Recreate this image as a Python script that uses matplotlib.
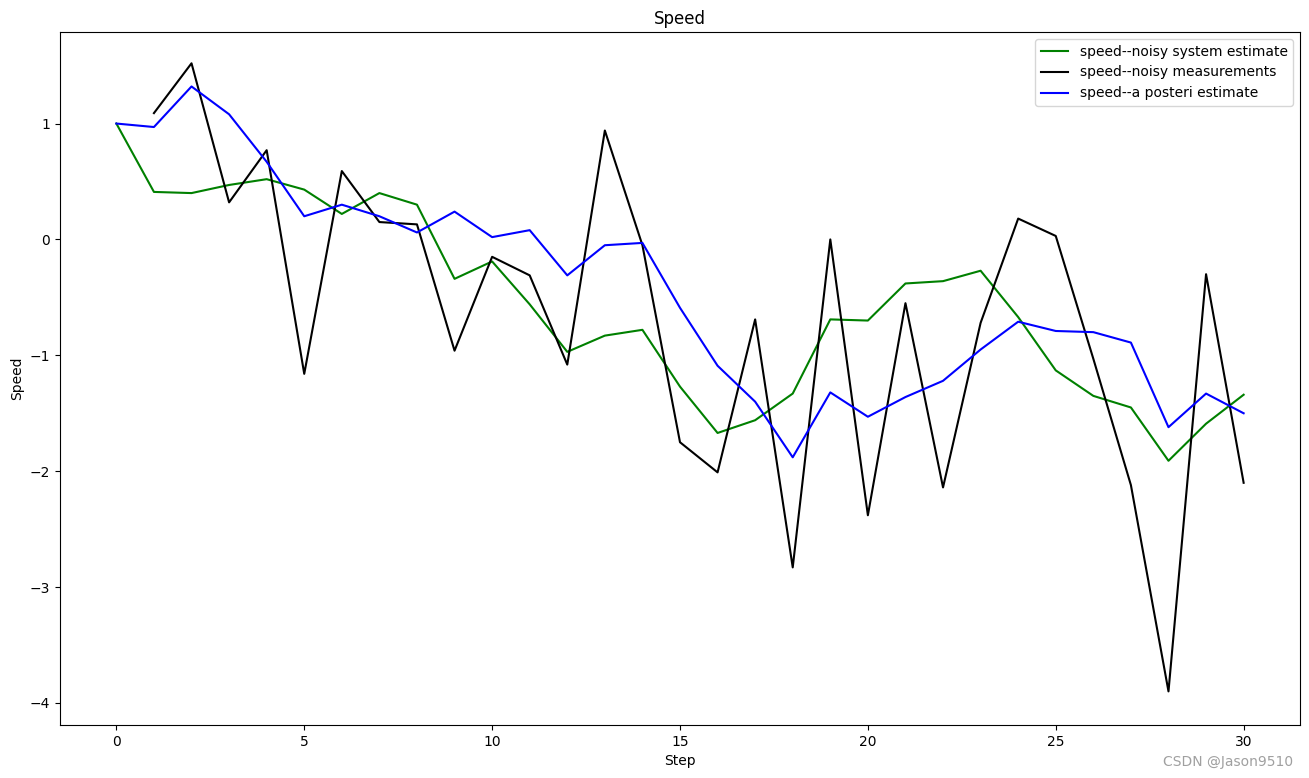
import matplotlib
matplotlib.use('Agg')
import matplotlib.pyplot as plt
import numpy as np

steps = list(range(31))

# speed--noisy system estimate
system_est = [1.0, 0.41, 0.40, 0.47, 0.52, 0.43, 0.22, 0.40, 0.30, -0.34,
              -0.19, -0.56, -0.97, -0.83, -0.78, -1.27, -1.67, -1.56, -1.33, -0.69,
              -0.70, -0.38, -0.36, -0.27, -0.67, -1.13, -1.35, -1.45, -1.91, -1.59,
              -1.34]

# speed--noisy measurements (starts at step 1)
meas_steps = list(range(1, 31))
measurements = [1.09, 1.52, 0.32, 0.77, -1.16, 0.59, 0.15, 0.13, -0.96, -0.15,
                -0.31, -1.08, 0.94, -0.05, -1.75, -2.01, -0.69, -2.83, 0.0, -2.38,
                -0.55, -2.14, -0.72, 0.18, 0.03, -1.03, -2.12, -3.90, -0.30, -2.10]

# speed--a posteri estimate
posteri = [1.0, 0.97, 1.32, 1.08, 0.67, 0.20, 0.30, 0.20, 0.06, 0.24,
           0.02, 0.08, -0.31, -0.05, -0.03, -0.59, -1.09, -1.40, -1.88, -1.32,
           -1.53, -1.36, -1.22, -0.95, -0.71, -0.79, -0.80, -0.89, -1.62, -1.33,
           -1.50]

fig = plt.figure(figsize=(13.09, 7.78), dpi=100)
ax = fig.add_axes([60 / 1309, 53 / 778, 1240 / 1309, 693 / 778])

ax.plot(steps, system_est, color='green', label='speed--noisy system estimate')
ax.plot(meas_steps, measurements, color='black', label='speed--noisy measurements')
ax.plot(steps, posteri, color='blue', label='speed--a posteri estimate')

ax.set_xlim(-1.5, 31.5)
ax.set_ylim(-4.19, 1.79)
ax.set_xlabel('Step')
ax.set_ylabel('Speed')
ax.set_title('Speed')
ax.legend(loc='upper right')

fig.text(0.988, 0.012, 'CSDN @Jason9510', color='#a0a0a0', fontsize=10,
         ha='right', va='bottom')

fig.savefig('out.png', dpi=100)
